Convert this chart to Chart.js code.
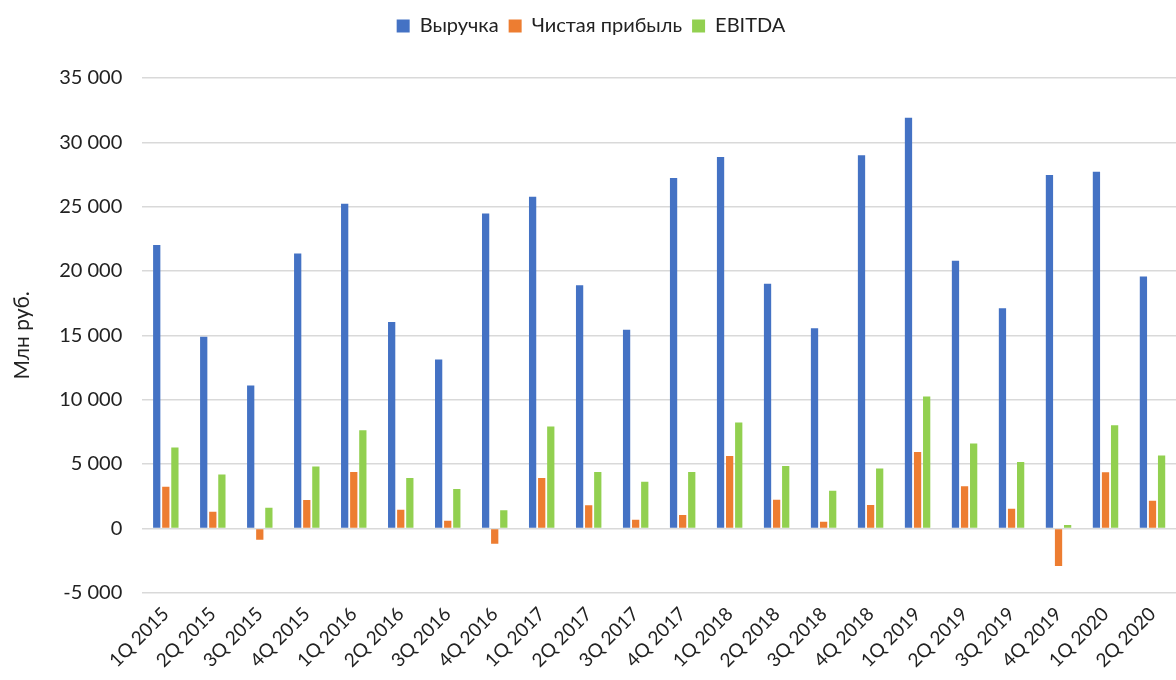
<!DOCTYPE html>
<html>
<head>
<meta charset="utf-8">
<script src="https://cdn.jsdelivr.net/npm/chart.js@4/dist/chart.umd.min.js"></script>
<style>
html,body{margin:0;padding:0;background:#fff;}
#wrap{width:1176px;height:680px;}
</style>
</head>
<body>
<div id="wrap"><canvas id="c" width="1176" height="680"></canvas></div>
<script>
const categories = ["1Q 2015","2Q 2015","3Q 2015","4Q 2015","1Q 2016","2Q 2016","3Q 2016","4Q 2016","1Q 2017","2Q 2017","3Q 2017","4Q 2017","1Q 2018","2Q 2018","3Q 2018","4Q 2018","1Q 2019","2Q 2019","3Q 2019","4Q 2019","1Q 2020","2Q 2020"];
const revenue = [22030,14900,11110,21360,25230,16040,13130,24470,25770,18890,15440,27230,28860,19020,15550,28990,31920,20790,17100,27460,27720,19570];
const netProfit = [3240,1300,-880,2200,4390,1450,600,-1190,3920,1790,670,1040,5630,2230,520,1820,5940,3270,1530,-2930,4360,2150];
const ebitda = [6280,4180,1610,4800,7630,3920,3060,1400,7920,4390,3630,4390,8230,4850,2930,4650,10250,6590,5160,260,8020,5660];
const seriesNames = ["Выручка","Чистая прибыль","EBITDA"];
const yTicks = [-5000,0,5000,10000,15000,20000,25000,30000,35000];

const fontFamily = "Lato, 'Noto Sans', sans-serif";
const fmt = v => {
  const s = Math.abs(v).toString().replace(/\B(?=(\d{3})+(?!\d))/g, " ");
  return (v < 0 ? "-" : "") + s;
};

const legendMargin = {
  id: 'legendMargin',
  beforeInit(chart) {
    const fit = chart.legend.fit;
    chart.legend.fit = function() {
      fit.bind(chart.legend)();
      this.height += 32;
    };
  }
};

new Chart(document.getElementById('c'), {
  type: 'bar',
  data: {
    labels: categories,
    datasets: [
      {label: seriesNames[0], data: revenue, backgroundColor: '#4472C4'},
      {label: seriesNames[1], data: netProfit, backgroundColor: '#ED7D31'},
      {label: seriesNames[2], data: ebitda, backgroundColor: '#92D050'}
    ]
  },
  plugins: [legendMargin],
  options: {
    responsive: false,
    animation: false,
    layout: {padding: {top: 6, right: 0, left: 6, bottom: 6}},
    datasets: {bar: {categoryPercentage: 0.58, barPercentage: 0.8}},
    plugins: {
      legend: {
        position: 'top',
        labels: {
          font: {family: fontFamily, size: 20},
          color: '#222',
          boxWidth: 13, boxHeight: 13,
          padding: 10
        }
      },
      tooltip: {enabled: false}
    },
    scales: {
      x: {
        grid: {display: false},
        border: {display: false},
        ticks: {
          font: {family: fontFamily, size: 19},
          color: '#222',
          maxRotation: 45, minRotation: 45,
          autoSkip: false,
          padding: 2
        }
      },
      y: {
        min: -5000, max: 35000,
        afterBuildTicks: ax => { ax.ticks = yTicks.map(v => ({value: v})); },
        grid: {color: '#d9d9d9', lineWidth: 1.5, drawTicks: false},
        border: {display: false},
        ticks: {
          font: {family: fontFamily, size: 20},
          color: '#222',
          padding: 20,
          callback: v => fmt(v)
        },
        title: {
          display: true,
          text: 'Млн руб.',
          font: {family: fontFamily, size: 21},
          color: '#222',
          padding: {bottom: 4}
        }
      }
    }
  }
});
</script>
</body>
</html>
